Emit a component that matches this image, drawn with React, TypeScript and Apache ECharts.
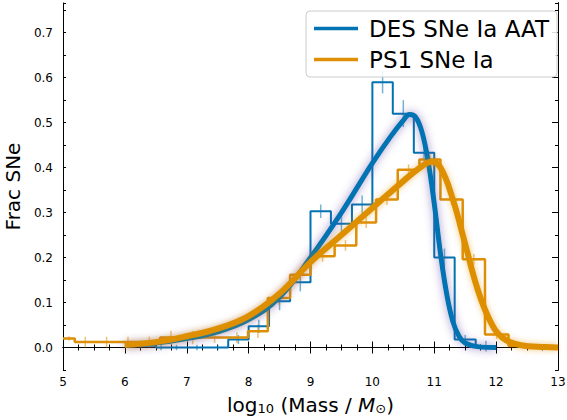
import { useEffect, useRef } from 'react';
import * as echarts from 'echarts';

const BLUE = '#0173b2';
const ORANGE = '#de8f05';

// histogram bin edges and heights
const desEdges = [6.0, 6.5, 6.67, 7.0, 7.33, 7.67, 8.0, 8.33, 8.67, 9.0, 9.33, 9.67, 10.0, 10.33, 10.67, 11.0, 11.33, 11.67, 12.0];
const desHeights = [0.004, 0.0, 0.0, 0.0, 0.0, 0.018, 0.047, 0.103, 0.145, 0.303, 0.275, 0.318, 0.59, 0.52, 0.433, 0.2, 0.018, 0.003];
const desErrors = [0.006, 0.006, 0.006, 0.006, 0.006, 0.01, 0.015, 0.02, 0.02, 0.015, 0.02, 0.02, 0.025, 0.03, 0.015, 0.02, 0.01, 0.012];

const psEdges = [5.0, 5.19, 5.53, 5.88, 6.22, 6.57, 6.92, 7.27, 7.63, 7.99, 8.31, 8.67, 9.0, 9.39, 9.74, 10.06, 10.41, 10.76, 11.1, 11.46, 11.82, 12.2, 12.55, 13.0];
const psHeights = [0.02, 0.012, 0.012, 0.012, 0.012, 0.022, 0.022, 0.022, 0.022, 0.036, 0.11, 0.162, 0.203, 0.227, 0.278, 0.329, 0.395, 0.418, 0.329, 0.196, 0.029, 0.004, 0.002];
const psErrors = [0.005, 0.012, 0.012, 0.012, 0.012, 0.015, 0.015, 0.012, 0.012, 0.015, 0.015, 0.012, 0.012, 0.012, 0.012, 0.012, 0.012, 0.012, 0.012, 0.012, 0.01, 0.005, 0.004];

// fitted curves
const desCurveX = [6.0, 6.5, 7.0, 7.5, 8.0, 8.5, 9.0, 9.5, 10.0, 10.3, 10.5, 10.6, 10.7, 10.8, 10.9, 11.0, 11.1, 11.2, 11.3, 11.4, 11.5, 11.7, 12.0];
const desCurveY = [0.005, 0.01, 0.02, 0.035, 0.062, 0.112, 0.2, 0.3, 0.41, 0.47, 0.505, 0.518, 0.512, 0.48, 0.415, 0.32, 0.21, 0.12, 0.058, 0.025, 0.01, 0.002, 0.0];
const psCurveX = [6.0, 6.5, 7.0, 7.5, 8.0, 8.5, 9.0, 9.5, 10.0, 10.5, 10.8, 10.95, 11.1, 11.3, 11.5, 11.7, 11.9, 12.1, 12.4, 12.8, 13.0];
const psCurveY = [0.006, 0.012, 0.025, 0.042, 0.07, 0.12, 0.19, 0.25, 0.31, 0.37, 0.403, 0.413, 0.4, 0.33, 0.23, 0.13, 0.06, 0.022, 0.005, 0.001, 0.0];

const yMajor = [0, 0.1, 0.2, 0.3, 0.4, 0.5, 0.6, 0.7];

function stepPoints(edges: number[], h: number[]) {
  const pts: number[][] = [];
  h.forEach((v, i) => {
    pts.push([edges[i], v], [edges[i + 1], v]);
  });
  return pts;
}

function errPoints(edges: number[], h: number[], e: number[]) {
  return h.map((v, i) => [(edges[i] + edges[i + 1]) / 2, v, e[i]]);
}

function errSeries(data: number[][], color: string) {
  return {
    type: 'custom',
    data,
    z: 1,
    renderItem: (_p: any, api: any) => {
      const x = api.value(0), y = api.value(1), e = api.value(2);
      const a = api.coord([x, y - e]);
      const b = api.coord([x, y + e]);
      return { type: 'line', shape: { x1: a[0], y1: a[1], x2: b[0], y2: b[1] }, style: { stroke: color, lineWidth: 1.5, opacity: 0.55 } };
    },
  };
}

export default function App() {
  const ref = useRef<HTMLDivElement>(null);

  useEffect(() => {
    if (!ref.current) return;
    const chart = echarts.init(ref.current, undefined, { renderer: 'svg' });
    const tick = { inside: true, lineStyle: { color: '#000' } };
    const line = { lineStyle: { color: '#000', width: 1 } };
    const yBase = { type: 'value', min: -0.05, max: 0.766, splitLine: { show: false }, axisLine: line };
    const icon = 'path://M0,5 L44,5 L44,8.5 L0,8.5 Z';
    chart.setOption({
      animation: false,
      textStyle: { fontFamily: 'DejaVu Sans' },
      grid: { left: 63, right: 9, top: 3, bottom: 50, outerBoundsMode: 'none', containLabel: false },
      legend: {
        top: 11, right: 10, orient: 'vertical', itemGap: 8,
        itemWidth: 44, itemHeight: 14, padding: [6, 8, 6, 8],
        backgroundColor: 'rgba(255,255,255,0.85)', borderColor: '#ccc', borderWidth: 1, borderRadius: 4,
        textStyle: { fontSize: 23, color: '#000', fontFamily: 'DejaVu Sans', padding: [0, 0, 0, 6] },
        data: [
          { name: 'DES SNe Ia AAT', icon, itemStyle: { color: BLUE } },
          { name: 'PS1 SNe Ia', icon, itemStyle: { color: ORANGE } },
        ],
      },
      xAxis: [
        {
          type: 'value', min: 5, max: 13, interval: 1, splitLine: { show: false }, axisLine: line,
          axisTick: { ...tick, length: 6 }, minorTick: { show: true, splitNumber: 4, length: 3, lineStyle: { color: '#000' } },
          axisLabel: { color: '#000', fontSize: 12, margin: 6 },
          name: '{n|log}{s|10}{n| (Mass / }{i|M}{s|⊙}{n|)}', nameLocation: 'middle', nameGap: 24,
          nameTextStyle: {
            rich: {
              n: { fontSize: 20, color: '#000', fontFamily: 'DejaVu Sans' },
              i: { fontSize: 20, color: '#000', fontStyle: 'italic', fontFamily: 'DejaVu Sans' },
              s: { fontSize: 13, color: '#000', verticalAlign: 'bottom', padding: [8, 0, 0, 0], fontFamily: 'DejaVu Sans' },
            },
          },
        },
        {
          type: 'value', min: 5, max: 13, interval: 1, position: 'top', splitLine: { show: false }, axisLine: line,
          axisTick: { ...tick, length: 6 }, minorTick: { show: true, splitNumber: 4, length: 3, lineStyle: { color: '#000' } },
          axisLabel: { show: false },
        },
      ],
      yAxis: [
        {
          ...yBase, interval: 0.05, axisTick: { ...tick, length: 3 },
          axisLabel: {
            color: '#000', fontSize: 12, margin: 10,
            formatter: (v: number) => (Math.abs(Math.round(v * 10) - v * 10) < 1e-6 && v >= 0 ? v.toFixed(1) : ''),
          },
          name: 'Frac SNe', nameLocation: 'middle', nameGap: 36,
          nameTextStyle: { fontSize: 20, color: '#000' },
        },
        { ...yBase, axisTick: { ...tick, length: 6, customValues: yMajor }, axisLabel: { show: false } },
        { ...yBase, position: 'right', interval: 0.05, axisTick: { ...tick, length: 3 }, axisLabel: { show: false } },
        { ...yBase, position: 'right', axisTick: { ...tick, length: 6, customValues: yMajor }, axisLabel: { show: false } },
      ],
      series: [
        errSeries(errPoints(desEdges, desHeights, desErrors), BLUE),
        errSeries(errPoints(psEdges, psHeights, psErrors), ORANGE),
        {
          name: 'DES SNe Ia AAT', type: 'line', data: stepPoints(desEdges, desHeights), showSymbol: false,
          lineStyle: { color: BLUE, width: 2 }, itemStyle: { color: BLUE }, z: 3,
        },
        {
          name: 'PS1 SNe Ia', type: 'line', data: stepPoints(psEdges, psHeights), showSymbol: false,
          lineStyle: { color: ORANGE, width: 2.5 }, itemStyle: { color: ORANGE }, z: 4,
        },
        {
          name: 'des-fit', type: 'line', data: desCurveX.map((x, i) => [x, desCurveY[i]]), smooth: 0.4, showSymbol: false,
          lineStyle: { color: BLUE, width: 5, shadowColor: 'rgba(90,60,160,0.6)', shadowBlur: 8 }, z: 5,
        },
        {
          name: 'ps-fit', type: 'line', data: psCurveX.map((x, i) => [x, psCurveY[i]]), smooth: 0.4, showSymbol: false,
          lineStyle: { color: ORANGE, width: 6, shadowColor: 'rgba(222,143,5,0.5)', shadowBlur: 6 }, z: 6,
        },
      ],
    });
    return () => chart.dispose();
  }, []);

  return <div ref={ref} style={{ position: 'absolute', left: 0, top: 0, width: 567, height: 420 }} />;
}
